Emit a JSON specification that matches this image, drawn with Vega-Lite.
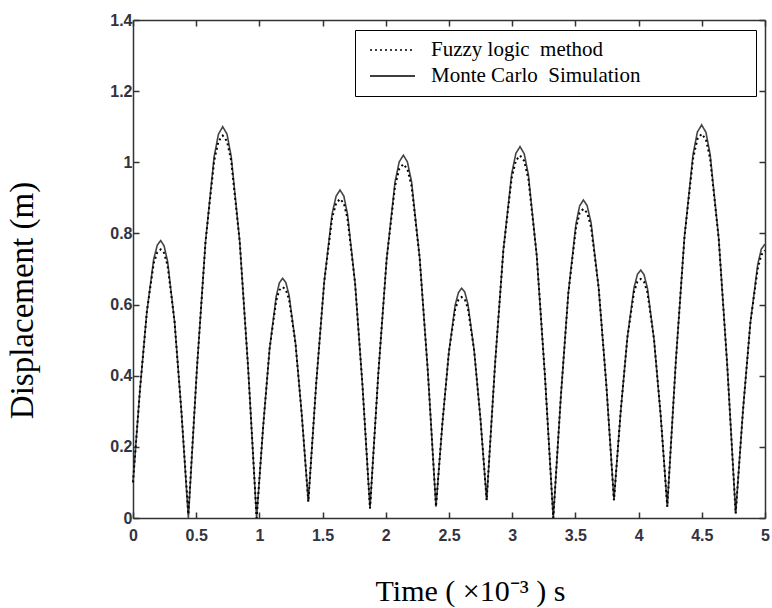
{
  "$schema": "https://vega.github.io/schema/vega-lite/v6.json",
  "width": 632,
  "height": 498,
  "autosize": {"type": "none"},
  "padding": {"left": 133, "top": 20, "right": 7, "bottom": 90},
  "background": "white",
  "data": {"values": [
    {"t": 0, "MonteCarlo": 0.10, "Fuzzy": 0.10},
    {"t": 0.055, "MonteCarlo": 0.36, "Fuzzy": 0.36},
    {"t": 0.110, "MonteCarlo": 0.581, "Fuzzy": 0.581},
    {"t": 0.164, "MonteCarlo": 0.728, "Fuzzy": 0.716},
    {"t": 0.192, "MonteCarlo": 0.767, "Fuzzy": 0.747},
    {"t": 0.219, "MonteCarlo": 0.78, "Fuzzy": 0.755},
    {"t": 0.246, "MonteCarlo": 0.765, "Fuzzy": 0.745},
    {"t": 0.274, "MonteCarlo": 0.721, "Fuzzy": 0.709},
    {"t": 0.329, "MonteCarlo": 0.551, "Fuzzy": 0.551},
    {"t": 0.383, "MonteCarlo": 0.299, "Fuzzy": 0.299},
    {"t": 0.438, "MonteCarlo": 0.0, "Fuzzy": 0.01},
    {"t": 0.506, "MonteCarlo": 0.421, "Fuzzy": 0.421},
    {"t": 0.574, "MonteCarlo": 0.778, "Fuzzy": 0.778},
    {"t": 0.642, "MonteCarlo": 1.016, "Fuzzy": 1.004},
    {"t": 0.676, "MonteCarlo": 1.079, "Fuzzy": 1.059},
    {"t": 0.71, "MonteCarlo": 1.10, "Fuzzy": 1.075},
    {"t": 0.744, "MonteCarlo": 1.079, "Fuzzy": 1.059},
    {"t": 0.777, "MonteCarlo": 1.016, "Fuzzy": 1.004},
    {"t": 0.844, "MonteCarlo": 0.778, "Fuzzy": 0.778},
    {"t": 0.911, "MonteCarlo": 0.421, "Fuzzy": 0.421},
    {"t": 0.978, "MonteCarlo": 0.0, "Fuzzy": 0.0},
    {"t": 1.030, "MonteCarlo": 0.258, "Fuzzy": 0.258},
    {"t": 1.081, "MonteCarlo": 0.477, "Fuzzy": 0.477},
    {"t": 1.133, "MonteCarlo": 0.623, "Fuzzy": 0.611},
    {"t": 1.158, "MonteCarlo": 0.661, "Fuzzy": 0.641},
    {"t": 1.184, "MonteCarlo": 0.674, "Fuzzy": 0.649},
    {"t": 1.209, "MonteCarlo": 0.662, "Fuzzy": 0.642},
    {"t": 1.235, "MonteCarlo": 0.626, "Fuzzy": 0.614},
    {"t": 1.286, "MonteCarlo": 0.490, "Fuzzy": 0.490},
    {"t": 1.336, "MonteCarlo": 0.287, "Fuzzy": 0.287},
    {"t": 1.387, "MonteCarlo": 0.046, "Fuzzy": 0.046},
    {"t": 1.450, "MonteCarlo": 0.381, "Fuzzy": 0.381},
    {"t": 1.513, "MonteCarlo": 0.665, "Fuzzy": 0.665},
    {"t": 1.575, "MonteCarlo": 0.855, "Fuzzy": 0.843},
    {"t": 1.607, "MonteCarlo": 0.905, "Fuzzy": 0.885},
    {"t": 1.638, "MonteCarlo": 0.922, "Fuzzy": 0.897},
    {"t": 1.668, "MonteCarlo": 0.905, "Fuzzy": 0.885},
    {"t": 1.697, "MonteCarlo": 0.854, "Fuzzy": 0.842},
    {"t": 1.757, "MonteCarlo": 0.660, "Fuzzy": 0.660},
    {"t": 1.816, "MonteCarlo": 0.370, "Fuzzy": 0.370},
    {"t": 1.875, "MonteCarlo": 0.027, "Fuzzy": 0.027},
    {"t": 1.941, "MonteCarlo": 0.407, "Fuzzy": 0.407},
    {"t": 2.007, "MonteCarlo": 0.729, "Fuzzy": 0.729},
    {"t": 2.073, "MonteCarlo": 0.945, "Fuzzy": 0.933},
    {"t": 2.106, "MonteCarlo": 1.001, "Fuzzy": 0.981},
    {"t": 2.139, "MonteCarlo": 1.02, "Fuzzy": 0.995},
    {"t": 2.171, "MonteCarlo": 1.001, "Fuzzy": 0.981},
    {"t": 2.204, "MonteCarlo": 0.945, "Fuzzy": 0.933},
    {"t": 2.268, "MonteCarlo": 0.731, "Fuzzy": 0.731},
    {"t": 2.333, "MonteCarlo": 0.410, "Fuzzy": 0.410},
    {"t": 2.397, "MonteCarlo": 0.032, "Fuzzy": 0.032},
    {"t": 2.448, "MonteCarlo": 0.267, "Fuzzy": 0.267},
    {"t": 2.499, "MonteCarlo": 0.466, "Fuzzy": 0.466},
    {"t": 2.549, "MonteCarlo": 0.599, "Fuzzy": 0.587},
    {"t": 2.575, "MonteCarlo": 0.634, "Fuzzy": 0.614},
    {"t": 2.60, "MonteCarlo": 0.646, "Fuzzy": 0.621},
    {"t": 2.625, "MonteCarlo": 0.635, "Fuzzy": 0.615},
    {"t": 2.650, "MonteCarlo": 0.601, "Fuzzy": 0.589},
    {"t": 2.699, "MonteCarlo": 0.471, "Fuzzy": 0.471},
    {"t": 2.749, "MonteCarlo": 0.278, "Fuzzy": 0.278},
    {"t": 2.798, "MonteCarlo": 0.05, "Fuzzy": 0.05},
    {"t": 2.864, "MonteCarlo": 0.431, "Fuzzy": 0.431},
    {"t": 2.930, "MonteCarlo": 0.753, "Fuzzy": 0.753},
    {"t": 2.996, "MonteCarlo": 0.968, "Fuzzy": 0.956},
    {"t": 3.029, "MonteCarlo": 1.025, "Fuzzy": 1.005},
    {"t": 3.062, "MonteCarlo": 1.044, "Fuzzy": 1.019},
    {"t": 3.095, "MonteCarlo": 1.024, "Fuzzy": 1.004},
    {"t": 3.128, "MonteCarlo": 0.965, "Fuzzy": 0.953},
    {"t": 3.194, "MonteCarlo": 0.738, "Fuzzy": 0.738},
    {"t": 3.259, "MonteCarlo": 0.400, "Fuzzy": 0.400},
    {"t": 3.325, "MonteCarlo": 0.0, "Fuzzy": 0.0},
    {"t": 3.385, "MonteCarlo": 0.342, "Fuzzy": 0.342},
    {"t": 3.444, "MonteCarlo": 0.632, "Fuzzy": 0.632},
    {"t": 3.504, "MonteCarlo": 0.826, "Fuzzy": 0.814},
    {"t": 3.533, "MonteCarlo": 0.877, "Fuzzy": 0.857},
    {"t": 3.563, "MonteCarlo": 0.894, "Fuzzy": 0.869},
    {"t": 3.593, "MonteCarlo": 0.878, "Fuzzy": 0.858},
    {"t": 3.624, "MonteCarlo": 0.830, "Fuzzy": 0.818},
    {"t": 3.684, "MonteCarlo": 0.647, "Fuzzy": 0.647},
    {"t": 3.745, "MonteCarlo": 0.373, "Fuzzy": 0.373},
    {"t": 3.805, "MonteCarlo": 0.05, "Fuzzy": 0.05},
    {"t": 3.858, "MonteCarlo": 0.298, "Fuzzy": 0.298},
    {"t": 3.911, "MonteCarlo": 0.507, "Fuzzy": 0.507},
    {"t": 3.964, "MonteCarlo": 0.648, "Fuzzy": 0.636},
    {"t": 3.991, "MonteCarlo": 0.685, "Fuzzy": 0.665},
    {"t": 4.017, "MonteCarlo": 0.697, "Fuzzy": 0.672},
    {"t": 4.043, "MonteCarlo": 0.684, "Fuzzy": 0.664},
    {"t": 4.070, "MonteCarlo": 0.646, "Fuzzy": 0.634},
    {"t": 4.122, "MonteCarlo": 0.502, "Fuzzy": 0.502},
    {"t": 4.175, "MonteCarlo": 0.287, "Fuzzy": 0.287},
    {"t": 4.227, "MonteCarlo": 0.032, "Fuzzy": 0.032},
    {"t": 4.295, "MonteCarlo": 0.443, "Fuzzy": 0.443},
    {"t": 4.363, "MonteCarlo": 0.791, "Fuzzy": 0.791},
    {"t": 4.431, "MonteCarlo": 1.023, "Fuzzy": 1.011},
    {"t": 4.465, "MonteCarlo": 1.085, "Fuzzy": 1.065},
    {"t": 4.499, "MonteCarlo": 1.105, "Fuzzy": 1.080},
    {"t": 4.533, "MonteCarlo": 1.084, "Fuzzy": 1.064},
    {"t": 4.566, "MonteCarlo": 1.022, "Fuzzy": 1.010},
    {"t": 4.634, "MonteCarlo": 0.785, "Fuzzy": 0.785},
    {"t": 4.701, "MonteCarlo": 0.431, "Fuzzy": 0.431},
    {"t": 4.768, "MonteCarlo": 0.013, "Fuzzy": 0.013},
    {"t": 4.826, "MonteCarlo": 0.303, "Fuzzy": 0.303},
    {"t": 4.884, "MonteCarlo": 0.548, "Fuzzy": 0.548},
    {"t": 4.942, "MonteCarlo": 0.712, "Fuzzy": 0.700},
    {"t": 4.971, "MonteCarlo": 0.756, "Fuzzy": 0.740},
    {"t": 5.0, "MonteCarlo": 0.77, "Fuzzy": 0.752}
  ]},
  "transform": [{"fold": ["Fuzzy", "MonteCarlo"], "as": ["series", "d"]}],
  "layer": [
    {
      "transform": [{"filter": "datum.series == 'MonteCarlo'"}],
      "mark": {"type": "line", "color": "#444444", "strokeWidth": 1.6},
      "encoding": {
        "x": {"field": "t", "type": "quantitative",
          "scale": {"domain": [0, 5], "nice": false, "zero": false},
          "axis": {"orient": "bottom", "values": [0, 0.5, 1, 1.5, 2, 2.5, 3, 3.5, 4, 4.5, 5], "format": "~g",
            "labelFlush": false, "labelOverlap": false, "tickSize": -6, "labelPadding": 15,
            "title": "Time ( ×10⁻³ ) s", "titlePadding": 33, "titleX": 337}},
        "y": {"field": "d", "type": "quantitative",
          "scale": {"domain": [0, 1.4], "nice": false},
          "axis": {"orient": "left", "values": [0, 0.2, 0.4, 0.6, 0.8, 1, 1.2, 1.4], "format": "~g",
            "labelFlush": false, "labelOverlap": false, "tickSize": -6, "labelPadding": 7,
            "title": "Displacement (m)", "titlePadding": 70, "titleY": 280, "titleFontSize": 33}},
        "strokeDash": {"field": "series", "type": "nominal",
          "scale": {"domain": ["Fuzzy", "MonteCarlo"], "range": [[2, 3], [1, 0]]},
          "legend": {"title": null, "orient": "none", "legendX": 222, "legendY": 10,
            "labelExpr": "(datum.label == 'Fuzzy' ? 'Fuzzy logic\u00a0 method' : 'Monte Carlo\u00a0 Simulation') + '\u00a0\u00a0\u00a0\u00a0\u00a0\u00a0\u00a0\u00a0\u00a0\u00a0\u00a0\u00a0\u00a0\u00a0\u00a0\u00a0\u00a0\u00a0\u00a0\u00a0\u200b'"}}
      }
    },
    {
      "transform": [{"filter": "datum.series == 'Fuzzy'"}],
      "mark": {"type": "line", "color": "black", "strokeWidth": 2},
      "encoding": {
        "x": {"field": "t", "type": "quantitative",
          "axis": {"orient": "top", "values": [0, 0.5, 1, 1.5, 2, 2.5, 3, 3.5, 4, 4.5, 5], "labels": false, "title": null, "tickSize": -6}},
        "y": {"field": "d", "type": "quantitative",
          "axis": {"orient": "right", "values": [0, 0.2, 0.4, 0.6, 0.8, 1, 1.2, 1.4], "labels": false, "title": null, "tickSize": -6}},
        "strokeDash": {"field": "series", "type": "nominal"}
      }
    }
  ],
  "resolve": {"axis": {"x": "independent", "y": "independent"}},
  "config": {
    "view": {"stroke": null},
    "axis": {
      "grid": false,
      "domainColor": "#333333", "domainWidth": 1.5,
      "tickColor": "#333333", "tickWidth": 1.5,
      "labelFont": "Liberation Sans", "labelFontSize": 16, "labelFontWeight": "bold", "labelColor": "#333340",
      "titleFont": "Liberation Serif", "titleFontSize": 30, "titleFontWeight": "normal", "titleColor": "black"
    },
    "legend": {
      "strokeColor": "black", "fillColor": "white", "padding": 10,
      "symbolType": "stroke", "symbolSize": 2025, "symbolStrokeWidth": 1.5, "symbolStrokeColor": "black",
      "clipHeight": 20, "rowPadding": 5, "symbolOffset": 4, "labelOffset": 15,
      "labelFont": "Liberation Serif", "labelFontSize": 21, "labelColor": "black", "labelLimit": 700
    }
  }
}
